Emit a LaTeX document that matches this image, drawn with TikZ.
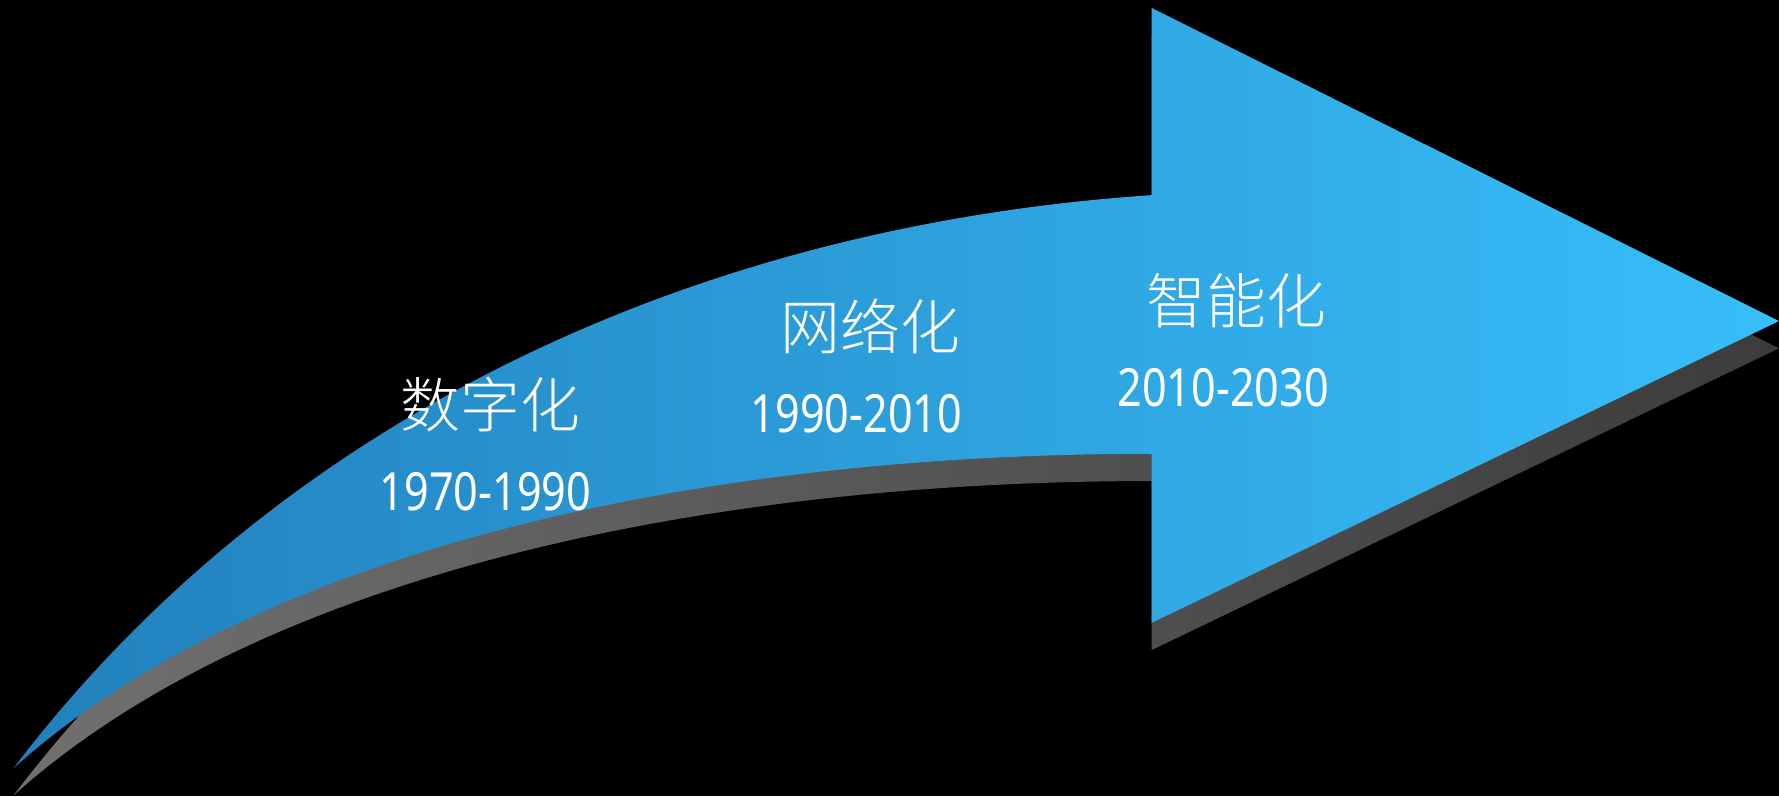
\documentclass[tikz,border=0pt]{standalone}
\usepackage{fontspec}
\setmainfont{Noto Sans}
\newfontfamily\cjk[UprightFont=* Light]{Noto Sans CJK SC}

\begin{document}
\begin{tikzpicture}[thick]
\tikzset{
  stage/.style={text=white,inner sep=0pt,font=\cjk\fontsize{15}{18}\selectfont},
  years/.style={text=white,inner sep=0pt,xscale=0.82,font=\fontsize{13.2}{16}\selectfont},
  band/.style={left color={rgb,255:red,33;green,128;blue,188},right color={rgb,255:red,56;green,190;blue,250}},
  bandshadow/.style={left color={rgb,255:red,112;green,112;blue,112},right color={rgb,255:red,60;green,60;blue,60}}
}

\useasboundingbox (0,0) rectangle (15.68,7.02);
\fill[black] (0,0) rectangle (15.68,7.02);
\clip (0,0) rectangle (15.68,7.02);

% shadow under the arrow
\shade[bandshadow,yshift=-0.24cm] (0.12,0.25) .. controls (2.40,3.25) and (6.00,5.02) .. (10.15,5.30)
  -- (10.15,6.95) -- (15.68,4.19) -- (10.15,1.53) -- (10.15,3.02)
  .. controls (6.00,3.02) and (2.20,2.12) .. cycle;

% the arrow
\shade[band] (0.12,0.25) .. controls (2.40,3.25) and (6.00,5.02) .. (10.15,5.30)
  -- (10.15,6.95) -- (15.68,4.19) -- (10.15,1.53) -- (10.15,3.02)
  .. controls (6.00,3.02) and (2.20,2.12) .. cycle;

\node[stage] (digital) at (4.32,3.45) {数字化};
\node[years] (digitalyr) at (4.28,2.69) {1970-1990};
\node[stage] (network) at (7.67,4.14) {网络化};
\node[years] (networkyr) at (7.55,3.37) {1990-2010};
\node[stage] (smart) at (10.90,4.37) {智能化};
\node[years] (smartyr) at (10.78,3.60) {2010-2030};
\end{tikzpicture}
\end{document}
